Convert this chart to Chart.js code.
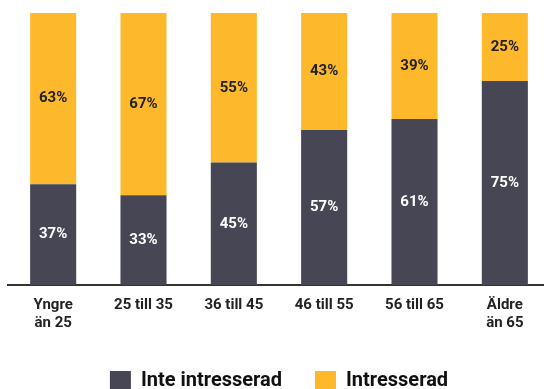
<!DOCTYPE html>
<html lang="sv">
<head>
<meta charset="utf-8">
<script src="https://cdn.jsdelivr.net/npm/chart.js@4"></script>
<style>
  html, body { margin: 0; padding: 0; background: #fff; overflow: hidden; }
  #wrap { position: relative; width: 550px; height: 389px; }
</style>
</head>
<body>
<div id="wrap"><canvas id="chart"></canvas></div>
<script>
// Åldersgrupper och andel (%) per svar
const categories = [['Yngre', 'än 25'], '25 till 35', '36 till 45', '46 till 55', '56 till 65', ['Äldre', 'än 65']];
const inteIntresserad = [37, 33, 45, 57, 61, 75];
const intresserad = [63, 67, 55, 43, 39, 25];

const DARK = '#474655';
const YELLOW = '#FDB92B';

// Skriver procentvärdet mitt i varje stapelsegment
const valueLabels = {
    id: 'valueLabels',
    afterDatasetsDraw(chart) {
        const ctx = chart.ctx;
        ctx.save();
        ctx.font = 'bold 15px Roboto, sans-serif';
        ctx.textAlign = 'center';
        ctx.textBaseline = 'middle';
        chart.data.datasets.forEach((ds, di) => {
            const meta = chart.getDatasetMeta(di);
            meta.data.forEach((bar, i) => {
                const mid = (bar.y + bar.base) / 2;
                ctx.fillStyle = di === 0 ? '#ffffff' : '#222222';
                ctx.fillText(ds.data[i] + '%', bar.x, mid);
            });
        });
        ctx.restore();
    }
};

new Chart(document.getElementById('chart'), {
    type: 'bar',
    data: {
        labels: categories,
        datasets: [
            { label: 'Inte intresserad', data: inteIntresserad, backgroundColor: DARK },
            { label: 'Intresserad', data: intresserad, backgroundColor: YELLOW }
        ]
    },
    options: {
        responsive: true,
        maintainAspectRatio: false,
        animation: false,
        layout: { padding: { left: 8, top: 13, right: 0, bottom: -12 } },
        datasets: {
            bar: { categoryPercentage: 1, barPercentage: 0.51 }
        },
        plugins: {
            tooltip: { enabled: false },
            legend: {
                position: 'bottom',
                labels: {
                    color: '#111111',
                    font: { size: 20, weight: 'bold', family: 'Roboto, sans-serif' },
                    boxWidth: 21,
                    boxHeight: 20,
                    padding: 33
                }
            }
        },
        scales: {
            x: {
                stacked: true,
                grid: { display: false },
                border: { display: true, color: '#333333', width: 2 },
                ticks: {
                    color: '#222222',
                    padding: 3,
                    maxRotation: 0,
                    font: { size: 15, weight: 'bold', family: 'Roboto, sans-serif', lineHeight: 1.2 }
                },
                // extra luft mellan etiketterna och förklaringen
                afterFit(scale) {
                    scale.height += 3;
                }
            },
            y: {
                stacked: true,
                display: false,
                min: 0,
                max: 100
            }
        }
    },
    plugins: [valueLabels]
});
</script>
</body>
</html>
